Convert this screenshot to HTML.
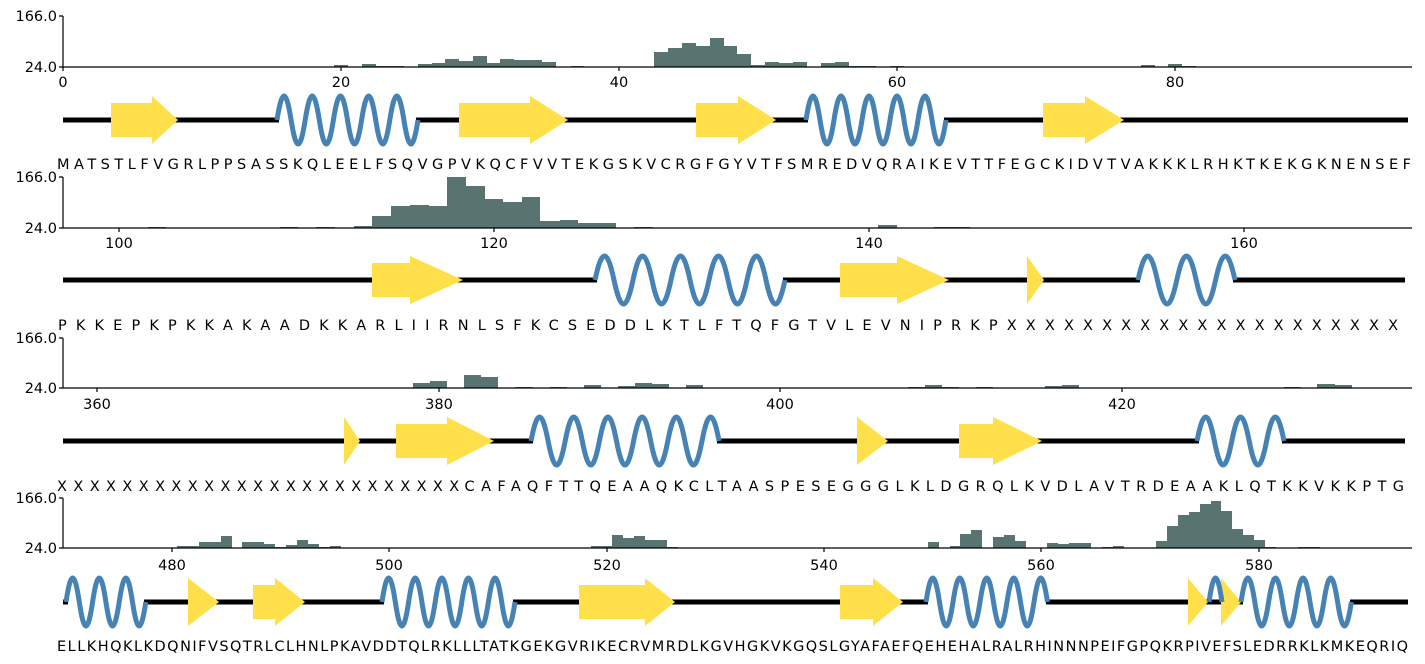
<!DOCTYPE html>
<html><head><meta charset="utf-8"><style>
html,body{margin:0;padding:0;background:#fff;}
svg{display:block;}
text{font-family:"DejaVu Sans","Liberation Sans",sans-serif;fill:#000;}
.yl{font-size:14.5px;text-anchor:end;}
.xl{font-size:14.5px;text-anchor:middle;}
.sq{font-size:14.5px;}
.b{fill:#587370;}
.ax{stroke:#000;stroke-width:1.2;fill:none;}
.ln{stroke:#000;stroke-width:5;}
.hx{stroke:#4682b4;stroke-width:5;fill:none;}
.st{fill:#ffe04a;}
</style></head><body>
<svg width="1425" height="664" viewBox="0 0 1425 664" xmlns="http://www.w3.org/2000/svg">
<!-- ===== Panel 1 ===== -->
<g>
<rect class="b" x="334" y="65" width="14" height="2"/><rect class="b" x="362" y="64" width="14" height="3"/><rect class="b" x="376" y="66" width="28" height="1"/><rect class="b" x="418" y="64" width="14" height="3"/><rect class="b" x="432" y="63" width="13" height="4"/><rect class="b" x="445" y="59" width="14" height="8"/><rect class="b" x="459" y="61" width="14" height="6"/><rect class="b" x="473" y="56" width="14" height="11"/><rect class="b" x="487" y="63" width="13" height="4"/><rect class="b" x="500" y="59" width="14" height="8"/><rect class="b" x="514" y="60" width="28" height="7"/><rect class="b" x="542" y="62" width="14" height="5"/><rect class="b" x="571" y="66" width="13" height="1"/><rect class="b" x="654" y="52" width="14" height="15"/><rect class="b" x="668" y="48" width="14" height="19"/><rect class="b" x="682" y="43" width="14" height="24"/><rect class="b" x="696" y="46" width="14" height="21"/><rect class="b" x="710" y="38" width="14" height="29"/><rect class="b" x="724" y="46" width="13" height="21"/><rect class="b" x="737" y="54" width="14" height="13"/><rect class="b" x="751" y="65" width="14" height="2"/><rect class="b" x="765" y="62" width="14" height="5"/><rect class="b" x="779" y="63" width="14" height="4"/><rect class="b" x="793" y="62" width="14" height="5"/><rect class="b" x="821" y="63" width="14" height="4"/><rect class="b" x="835" y="62" width="14" height="5"/><rect class="b" x="849" y="66" width="27" height="1"/><rect class="b" x="890" y="66" width="14" height="1"/><rect class="b" x="1141" y="65" width="14" height="2"/><rect class="b" x="1168" y="64" width="14" height="3"/><rect class="b" x="1182" y="66" width="14" height="1"/>
<path class="ax" d="M63,16V67H1412 M59,16H63 M59,67H63 M63,67v4 M341,67v4 M619,67v4 M897,67v4 M1175,67v4"/>
<text class="yl" x="57" y="21">166.0</text><text class="yl" x="57" y="72">24.0</text>
<text class="xl" x="63" y="87">0</text><text class="xl" x="341" y="87">20</text><text class="xl" x="619" y="87">40</text><text class="xl" x="897" y="87">60</text><text class="xl" x="1175" y="87">80</text>
<line class="ln" x1="63" y1="120" x2="1408" y2="120"/>
<rect x="279" y="116" width="137" height="8" fill="#fff"/><rect x="808" y="116" width="136" height="8" fill="#fff"/>
<polygon class="st" points="111,103 152,103 152,96 178,120 152,144 152,137 111,137"/>
<polygon class="st" points="459,103 530,103 530,96 568,120 530,144 530,137 459,137"/>
<polygon class="st" points="696,103 738,103 738,96 776,120 738,144 738,137 696,137"/>
<polygon class="st" points="1043,103 1085,103 1085,96 1124,120 1085,144 1085,137 1043,137"/>
<path class="hx" d="M277,120 c5.1,-32 9,-32 14.1,0 c5.1,32 9,32 14.1,0 c5.1,-32 9,-32 14.1,0 c5.1,32 9,32 14.1,0 c5.1,-32 9,-32 14.1,0 c5.1,32 9,32 14.1,0 c5.1,-32 9,-32 14.1,0 c5.1,32 9,32 14.1,0 c5.1,-32 9,-32 14.1,0 c5.1,32 9,32 14.1,0"/>
<path class="hx" d="M806,120 c5,-32 9,-32 14,0 c5,32 9,32 14,0 c5,-32 9,-32 14,0 c5,32 9,32 14,0 c5,-32 9,-32 14,0 c5,32 9,32 14,0 c5,-32 9,-32 14,0 c5,32 9,32 14,0 c5,-32 9,-32 14,0 c5,32 9,32 14,0"/>
<text class="sq" x="57" y="169" textLength="1354" lengthAdjust="spacing">MATSTLFVGRLPPSASSKQLEELFSQVGPVKQCFVVTEKGSKVCRGFGYVTFSMREDVQRAIKEVTTFEGCKIDVTVAKKKLRHKTKEKGKNENSEF</text>
</g>
<!-- ===== Panel 2 ===== -->
<g>
<rect class="b" x="148" y="227" width="18" height="1"/><rect class="b" x="280" y="227" width="18" height="1"/><rect class="b" x="316" y="227" width="19" height="1"/><rect class="b" x="354" y="226" width="18" height="2"/><rect class="b" x="372" y="216" width="19" height="12"/><rect class="b" x="391" y="206" width="19" height="22"/><rect class="b" x="410" y="205" width="19" height="23"/><rect class="b" x="429" y="206" width="18" height="22"/><rect class="b" x="447" y="177" width="19" height="51"/><rect class="b" x="466" y="186" width="19" height="42"/><rect class="b" x="485" y="199" width="18" height="29"/><rect class="b" x="503" y="202" width="19" height="26"/><rect class="b" x="522" y="197" width="18" height="31"/><rect class="b" x="540" y="221" width="20" height="7"/><rect class="b" x="560" y="220" width="18" height="8"/><rect class="b" x="578" y="223" width="38" height="5"/><rect class="b" x="634" y="227" width="19" height="1"/><rect class="b" x="878" y="225" width="19" height="3"/><rect class="b" x="934" y="227" width="36" height="1"/>
<path class="ax" d="M63,177V228H1412 M59,177H63 M59,228H63 M119,228v4 M494,228v4 M869,228v4 M1244,228v4"/>
<text class="yl" x="57" y="182">166.0</text><text class="yl" x="57" y="233">24.0</text>
<text class="xl" x="119" y="248">100</text><text class="xl" x="494" y="248">120</text><text class="xl" x="869" y="248">140</text><text class="xl" x="1244" y="248">160</text>
<line class="ln" x1="63" y1="280" x2="1405" y2="280"/>
<rect x="597" y="276" width="186" height="8" fill="#fff"/><rect x="1140" y="276" width="93" height="8" fill="#fff"/>
<polygon class="st" points="372,263 410,263 410,256 463,280 410,304 410,297 372,297"/>
<polygon class="st" points="840,263 897,263 897,256 949,280 897,304 897,297 840,297"/>
<polygon class="st" points="1027,256 1044,280 1027,304"/>
<path class="hx" d="M595,280 c6.8,-32 12.2,-32 19,0 c6.8,32 12.2,32 19,0 c6.8,-32 12.2,-32 19,0 c6.8,32 12.2,32 19,0 c6.8,-32 12.2,-32 19,0 c6.8,32 12.2,32 19,0 c6.8,-32 12.2,-32 19,0 c6.8,32 12.2,32 19,0 c6.8,-32 12.2,-32 19,0 c6.8,32 12.2,32 19,0"/>
<path class="hx" d="M1138,280 c7,-32 12.4,-32 19.4,0 c7,32 12.4,32 19.4,0 c7,-32 12.4,-32 19.4,0 c7,32 12.4,32 19.4,0 c7,-32 12.4,-32 19.4,0"/>
<text class="sq" x="58" y="330" textLength="1340" lengthAdjust="spacing">PKKEPKPKKAKAADKKARLIIRNLSFKCSEDDLKTLFTQFGTVLEVNIPRKPXXXXXXXXXXXXXXXXXXXXX</text>
</g>
<!-- ===== Panel 3 ===== -->
<g>
<rect class="b" x="413" y="383" width="17" height="5"/><rect class="b" x="430" y="381" width="17" height="7"/><rect class="b" x="464" y="375" width="17" height="13"/><rect class="b" x="481" y="377" width="17" height="11"/><rect class="b" x="515" y="387" width="18" height="1"/><rect class="b" x="550" y="387" width="17" height="1"/><rect class="b" x="584" y="385" width="17" height="3"/><rect class="b" x="618" y="386" width="17" height="2"/><rect class="b" x="635" y="383" width="17" height="5"/><rect class="b" x="652" y="384" width="17" height="4"/><rect class="b" x="686" y="385" width="17" height="3"/><rect class="b" x="908" y="387" width="17" height="1"/><rect class="b" x="925" y="385" width="17" height="3"/><rect class="b" x="942" y="387" width="17" height="1"/><rect class="b" x="976" y="387" width="17" height="1"/><rect class="b" x="1045" y="386" width="17" height="2"/><rect class="b" x="1062" y="385" width="17" height="3"/><rect class="b" x="1284" y="387" width="17" height="1"/><rect class="b" x="1317" y="384" width="18" height="4"/><rect class="b" x="1335" y="385" width="17" height="3"/>
<path class="ax" d="M63,338V388H1412 M59,338H63 M59,388H63 M97,388v4 M439,388v4 M780,388v4 M1122,388v4"/>
<text class="yl" x="57" y="343">166.0</text><text class="yl" x="57" y="393">24.0</text>
<text class="xl" x="97" y="409">360</text><text class="xl" x="439" y="409">380</text><text class="xl" x="780" y="409">400</text><text class="xl" x="1122" y="409">420</text>
<line class="ln" x1="63" y1="441" x2="1405" y2="441"/>
<rect x="533" y="437" width="184" height="8" fill="#fff"/><rect x="1199" y="437" width="83" height="8" fill="#fff"/>
<polygon class="st" points="344,417 360,441 344,465"/>
<polygon class="st" points="396,424 447,424 447,417 494,441 447,465 447,458 396,458"/>
<polygon class="st" points="857,417 888,441 857,465"/>
<polygon class="st" points="959,424 993,424 993,417 1042,441 993,465 993,458 959,458"/>
<path class="hx" d="M531,441 c6.2,-32 10.9,-32 17.1,0 c6.2,32 10.9,32 17.1,0 c6.2,-32 10.9,-32 17.1,0 c6.2,32 10.9,32 17.1,0 c6.2,-32 10.9,-32 17.1,0 c6.2,32 10.9,32 17.1,0 c6.2,-32 10.9,-32 17.1,0 c6.2,32 10.9,32 17.1,0 c6.2,-32 10.9,-32 17.1,0 c6.2,32 10.9,32 17.1,0 c6.2,-32 10.9,-32 17.1,0"/>
<path class="hx" d="M1197,441 c6.3,-32 11.1,-32 17.4,0 c6.3,32 11.1,32 17.4,0 c6.3,-32 11.1,-32 17.4,0 c6.3,32 11.1,32 17.4,0 c6.3,-32 11.1,-32 17.4,0"/>
<text class="sq" x="57" y="491" textLength="1347" lengthAdjust="spacing">XXXXXXXXXXXXXXXXXXXXXXXXXCAFAQFTTQEAAQKCLTAASPESEGGGLKLDGRQLKVDLAVTRDEAAKLQTKKVKKPTG</text>
</g>
<!-- ===== Panel 4 ===== -->
<g>
<rect class="b" x="177" y="546" width="22" height="2"/><rect class="b" x="199" y="542" width="22" height="6"/><rect class="b" x="221" y="536" width="11" height="12"/><rect class="b" x="242" y="542" width="22" height="6"/><rect class="b" x="264" y="544" width="11" height="4"/><rect class="b" x="275" y="547" width="11" height="1"/><rect class="b" x="286" y="545" width="11" height="3"/><rect class="b" x="297" y="540" width="11" height="8"/><rect class="b" x="308" y="544" width="11" height="4"/><rect class="b" x="319" y="547" width="11" height="1"/><rect class="b" x="330" y="546" width="11" height="2"/>
<rect class="b" x="591" y="546" width="21" height="2"/><rect class="b" x="612" y="535" width="11" height="13"/><rect class="b" x="623" y="538" width="11" height="10"/><rect class="b" x="634" y="536" width="11" height="12"/><rect class="b" x="645" y="540" width="22" height="8"/><rect class="b" x="667" y="547" width="11" height="1"/>
<rect class="b" x="928" y="542" width="11" height="6"/><rect class="b" x="950" y="546" width="10" height="2"/><rect class="b" x="960" y="534" width="11" height="14"/><rect class="b" x="971" y="530" width="11" height="18"/><rect class="b" x="993" y="537" width="11" height="11"/><rect class="b" x="1004" y="535" width="11" height="13"/><rect class="b" x="1015" y="541" width="11" height="7"/><rect class="b" x="1047" y="543" width="11" height="5"/><rect class="b" x="1058" y="544" width="11" height="4"/><rect class="b" x="1069" y="543" width="22" height="5"/><rect class="b" x="1102" y="547" width="11" height="1"/><rect class="b" x="1113" y="546" width="11" height="2"/><rect class="b" x="1156" y="541" width="11" height="7"/><rect class="b" x="1167" y="526" width="11" height="22"/><rect class="b" x="1178" y="515" width="11" height="33"/><rect class="b" x="1189" y="512" width="11" height="36"/><rect class="b" x="1200" y="504" width="11" height="44"/><rect class="b" x="1211" y="501" width="10" height="47"/><rect class="b" x="1221" y="511" width="11" height="37"/><rect class="b" x="1232" y="529" width="11" height="19"/><rect class="b" x="1243" y="535" width="11" height="13"/><rect class="b" x="1254" y="540" width="11" height="8"/><rect class="b" x="1265" y="547" width="11" height="1"/><rect class="b" x="1298" y="547" width="22" height="1"/>
<path class="ax" d="M63,498V548H1412 M59,498H63 M59,548H63 M172,548v4 M389,548v4 M607,548v4 M824,548v4 M1041,548v4 M1259,548v4"/>
<text class="yl" x="57" y="503">166.0</text><text class="yl" x="57" y="553">24.0</text>
<text class="xl" x="172" y="570">480</text><text class="xl" x="389" y="570">500</text><text class="xl" x="607" y="570">520</text><text class="xl" x="824" y="570">540</text><text class="xl" x="1041" y="570">560</text><text class="xl" x="1259" y="570">580</text>
<line class="ln" x1="63" y1="602" x2="1408" y2="602"/>
<rect x="68" y="598" width="76" height="8" fill="#fff"/><rect x="384" y="598" width="129" height="8" fill="#fff"/><rect x="928" y="598" width="118" height="8" fill="#fff"/><rect x="1243" y="598" width="107" height="8" fill="#fff"/>
<polygon class="st" points="188,578 219,602 188,626"/>
<polygon class="st" points="253,585 275,585 275,578 305,602 275,626 275,619 253,619"/>
<polygon class="st" points="579,585 645,585 645,578 675,602 645,626 645,619 579,619"/>
<polygon class="st" points="840,585 873,585 873,578 903,602 873,626 873,619 840,619"/>
<polygon class="st" points="1188,578 1208,602 1188,626"/>
<polygon class="st" points="1221,578 1241,602 1221,626"/>
<path class="hx" d="M66,602 c4.8,-32 8.5,-32 13.3,0 c4.8,32 8.5,32 13.3,0 c4.8,-32 8.5,-32 13.3,0 c4.8,32 8.5,32 13.3,0 c4.8,-32 8.5,-32 13.3,0 c4.8,32 8.5,32 13.3,0"/>
<path class="hx" d="M382,602 c4.8,-32 8.5,-32 13.3,0 c4.8,32 8.5,32 13.3,0 c4.8,-32 8.5,-32 13.3,0 c4.8,32 8.5,32 13.3,0 c4.8,-32 8.5,-32 13.3,0 c4.8,32 8.5,32 13.3,0 c4.8,-32 8.5,-32 13.3,0 c4.8,32 8.5,32 13.3,0 c4.8,-32 8.5,-32 13.3,0 c4.8,32 8.5,32 13.3,0"/>
<path class="hx" d="M926,602 c4.9,-32 8.6,-32 13.5,0 c4.9,32 8.6,32 13.5,0 c4.9,-32 8.6,-32 13.5,0 c4.9,32 8.6,32 13.5,0 c4.9,-32 8.6,-32 13.5,0 c4.9,32 8.6,32 13.5,0 c4.9,-32 8.6,-32 13.5,0 c4.9,32 8.6,32 13.5,0 c4.9,-32 8.6,-32 13.5,0"/>
<path class="hx" d="M1209,602 c4.7,-32 8.3,-32 13,0"/>
<path class="hx" d="M1241,602 c5,-32 8.8,-32 13.8,0 c5,32 8.8,32 13.8,0 c5,-32 8.8,-32 13.8,0 c5,32 8.8,32 13.8,0 c5,-32 8.8,-32 13.8,0 c5,32 8.8,32 13.8,0 c5,-32 8.8,-32 13.8,0 c5,32 8.8,32 13.8,0"/>
<text class="sq" x="57" y="651" textLength="1351" lengthAdjust="spacing">ELLKHQKLKDQNIFVSQTRLCLHNLPKAVDDTQLRKLLLTATKGEKGVRIKECRVMRDLKGVHGKVKGQSLGYAFAEFQEHEHALRALRHINNNPEIFGPQKRPIVEFSLEDRRKLKMKEQRIQ</text>
</g>
</svg>
</body></html>
